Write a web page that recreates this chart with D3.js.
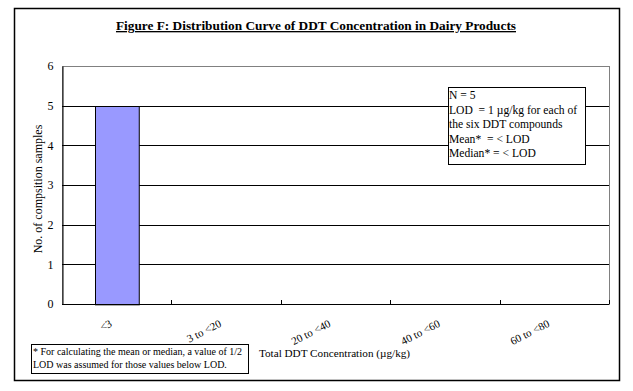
<!DOCTYPE html>
<html>
<head>
<meta charset="utf-8">
<script src="https://cdn.jsdelivr.net/npm/d3@7"></script>
<style>
  body { margin: 0; background: #fff; }
  svg { display: block; }
  svg text { font-family: "Liberation Serif", "Times New Roman", serif; fill: #000; }
</style>
</head>
<body>
<svg id="chart" width="633" height="391"></svg>
<script>
// Data
const categories = ["<3", "3 to <20", "20 to <40", "40 to <60", "60 to <80"];
const counts = [5, 0, 0, 0, 0];
const yTicks = [0, 1, 2, 3, 4, 5, 6];
const noteLines = [
  "N = 5",
  "LOD  = 1 \u00b5g/kg for each of",
  "the six DDT compounds",
  "Mean*  = < LOD",
  "Median* = < LOD"
];
const footLines = [
  "* For calculating the mean or median, a value of 1/2",
  "LOD was assumed for those values below LOD."
];

const svg = d3.select("#chart");

// outer frame
svg.append("rect")
  .attr("x", 14.5).attr("y", 8.5).attr("width", 605).attr("height", 372)
  .attr("fill", "#fff").attr("stroke", "#000").attr("stroke-width", 1.5);

// title
svg.append("text")
  .attr("x", 316).attr("y", 30)
  .attr("text-anchor", "middle")
  .attr("font-size", "13.3px").attr("font-weight", "bold")
  .attr("text-decoration", "underline")
  .text("Figure F: Distribution Curve of DDT Concentration in Dairy Products");

const m = { left: 62, top: 66, right: 609, bottom: 304 };

const x = d3.scaleBand()
  .domain(categories)
  .range([m.left, m.right])
  .paddingInner(0.6)
  .paddingOuter(0.3);

const y = d3.scaleLinear().domain([0, 6]).range([m.bottom, m.top]);

// plot border (gray top / right)
svg.append("rect")
  .attr("x", m.left + 0.5).attr("y", m.top + 0.5)
  .attr("width", m.right - m.left).attr("height", m.bottom - m.top)
  .attr("fill", "#fff").attr("stroke", "#808080").attr("stroke-width", 1);

// gridlines
svg.append("g").selectAll("line")
  .data(yTicks.filter(d => d > 0 && d < 6)).join("line")
  .attr("x1", m.left).attr("x2", m.right)
  .attr("y1", d => Math.round(y(d)) + 0.5).attr("y2", d => Math.round(y(d)) + 0.5)
  .attr("stroke", "#000").attr("stroke-width", 1);

// bars
svg.append("g").selectAll("rect")
  .data(categories.map((c, i) => ({ c, v: counts[i] })).filter(d => d.v > 0)).join("rect")
  .attr("x", d => Math.round(x(d.c)) + 0.5)
  .attr("y", d => Math.round(y(d.v)) + 0.5)
  .attr("width", x.bandwidth())
  .attr("height", d => y(0) - y(d.v))
  .attr("fill", "#9999ff").attr("stroke", "#000").attr("stroke-width", 1);

// y axis
const yAxis = svg.append("g")
  .attr("transform", `translate(${m.left + 0.5},0)`)
  .call(d3.axisLeft(y).tickValues(yTicks).tickFormat(d3.format("d")).tickSize(0).tickPadding(9));
yAxis.attr("font-family", null).attr("font-size", null);
yAxis.select(".domain").attr("stroke", "#000");
yAxis.selectAll("text").attr("font-size", "12px");

// x axis (ticks at category boundaries, pointing inward)
const step = x.step();
const bounds = d3.range(1, categories.length + 1).map(i => m.left + i * step);
svg.append("line")
  .attr("x1", m.left).attr("x2", m.right)
  .attr("y1", m.bottom + 0.5).attr("y2", m.bottom + 0.5)
  .attr("stroke", "#000");
svg.append("g").selectAll("line")
  .data(bounds).join("line")
  .attr("x1", d => Math.round(d) + 0.5).attr("x2", d => Math.round(d) + 0.5)
  .attr("y1", m.bottom).attr("y2", m.bottom - 4)
  .attr("stroke", "#000");

// category labels, rotated
svg.append("g").selectAll("text")
  .data(categories).join("text")
  .attr("transform", d => `translate(${x(d) + x.bandwidth() / 2 - 4},${m.bottom + 22}) rotate(-27)`)
  .attr("text-anchor", "end")
  .attr("font-size", "11px")
  .text(d => d);

// axis titles
svg.append("text")
  .attr("x", 334.5).attr("y", 357)
  .attr("text-anchor", "middle")
  .attr("font-size", "11.2px")
  .text("Total DDT Concentration (\u00b5g/kg)");

svg.append("text")
  .attr("transform", "translate(42,189) rotate(-90)")
  .attr("text-anchor", "middle")
  .attr("font-size", "12px")
  .text("No. of compsition samples");

// stats box
svg.append("rect")
  .attr("x", 448.5).attr("y", 87.5).attr("width", 137).attr("height", 77)
  .attr("fill", "#fff").attr("stroke", "#000");
svg.append("g").selectAll("text")
  .data(noteLines).join("text")
  .attr("x", 449).attr("y", (d, i) => 99 + i * 14.6)
  .attr("font-size", "11.6px")
  .style("white-space", "pre")
  .text(d => d);

// footnote box
svg.append("rect")
  .attr("x", 31.5).attr("y", 344.5).attr("width", 217).attr("height", 29)
  .attr("fill", "#fff").attr("stroke", "#000");
svg.append("g").selectAll("text")
  .data(footLines).join("text")
  .attr("x", 33).attr("y", (d, i) => 355 + i * 13)
  .attr("font-size", "10px")
  .text(d => d);
</script>
</body>
</html>
